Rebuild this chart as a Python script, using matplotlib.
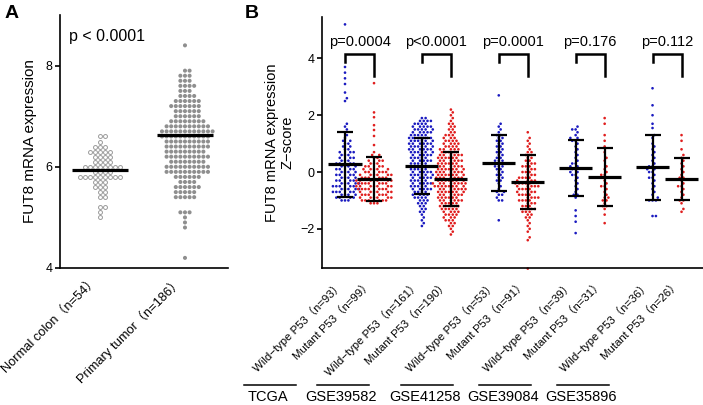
#!/usr/bin/env python
import numpy as np
import matplotlib as mpl

mpl.use("Agg")
from matplotlib import pyplot as plt
from matplotlib.lines import Line2D

plt.rcParams['font.family'] = ['Liberation Sans', 'Noto Sans CJK JP']

# ---- panel A: FUT8 expression, counts per 0.1 bin
a_labels = ['Normal colon（n=54）', 'Primary tumor（n=186）']
normal_lo = 5.0
normal_counts = [1, 1, 2, 0, 2, 2, 3, 3, 9, 4, 8, 4, 4, 5, 3, 1, 2]
tumor_lo = 4.2
tumor_counts = [1, 0, 0, 0, 0, 0, 1, 1, 1, 3, 0, 0, 5, 5, 6, 4, 6, 10, 10, 8,
                10, 9, 10, 10, 11, 12, 10, 8, 6, 6, 7, 6, 4, 3, 4, 3, 3, 2,
                0, 0, 0, 0, 1]
a_means = [5.94, 6.63]
a_pval = 'p < 0.0001'

# ---- panel B: Z-scores by P53 status, counts per 0.1 bin + stray points
b_cohorts = ['TCGA', 'GSE39582', 'GSE41258', 'GSE39084', 'GSE35896']
wt_n = [93, 161, 53, 39, 36]
mut_n = [99, 190, 91, 31, 26]
b_pvals = ['p=0.0004', 'p<0.0001', 'p=0.0001', 'p=0.176', 'p=0.112']

wt_lo = [-1.0, -1.9, -1.0, -0.9, -1.0]
wt_counts = [
    [3, 4, 4, 5, 5, 5, 5, 4, 4, 4, 4, 4, 4, 4, 3, 3, 3, 3, 2, 2, 2, 2, 1, 1, 1, 1, 1, 1],
    [1, 1, 1, 1, 1, 2, 2, 2, 3, 3, 4, 4, 4, 5, 5, 5, 5, 5, 6, 5, 5, 5, 5, 5, 5, 5, 6, 6,
     6, 6, 6, 6, 5, 5, 5, 5, 4, 4, 2],
    [2, 1, 2, 2, 1, 1, 1, 2, 2, 2, 2, 2, 3, 3, 3, 2, 2, 2, 2, 2, 2, 2, 2, 2, 1, 1, 1, 1],
    [1, 2, 1, 1, 1, 1, 1, 1, 2, 2, 2, 2, 2, 1, 1, 1, 1, 1, 1, 1, 2, 2, 1, 1, 2, 1],
    [3, 1, 1, 1, 1, 1, 1, 1, 2, 1, 2, 2, 2, 1, 1, 1, 1, 1, 1, 1, 1, 0, 1, 1],
]
wt_extra = [
    [2.5, 2.6, 2.8, 3.1, 3.3, 3.5, 3.7, 5.2],
    [],
    [-1.7, 2.7],
    [-1.35, -1.55, -1.75, -2.15],
    [1.55, 1.7, 2.0, 2.35, 2.95, -1.55, -1.55],
]
mut_lo = [-1.1, -2.2, -2.4, -1.3, -1.4]
mut_counts = [
    [3, 6, 6, 6, 6, 7, 7, 7, 7, 6, 6, 5, 5, 4, 3, 3, 2, 2, 1],
    [1, 1, 1, 2, 2, 3, 3, 4, 4, 5, 5, 5, 6, 6, 6, 7, 7, 8, 8, 7, 7, 7, 7, 7, 6, 6, 6,
     6, 6, 5, 5, 4, 4, 4, 3, 3, 2, 2, 2, 2, 1, 1, 1, 1, 1],
    [1, 1, 0, 1, 1, 1, 1, 1, 2, 2, 3, 3, 3, 3, 4, 4, 4, 4, 4, 5, 5, 4, 4, 3, 3, 3, 3,
     3, 2, 2, 2, 2, 1, 1, 1, 1, 1, 0, 1],
    [1, 2, 1, 2, 2, 1, 1, 1, 2, 1, 1, 1, 2, 1, 1, 1, 0, 1, 1, 0, 1, 0, 1, 0, 1, 0, 1],
    [1, 1, 0, 1, 2, 1, 1, 1, 1, 2, 1, 1, 2, 1, 1, 1, 1, 1, 1, 1, 1, 0, 1, 0, 0, 1, 0, 1],
]
mut_extra = [
    [0.95, 1.27, 1.48, 1.65, 1.93, 2.1, 3.13],
    [],
    [-3.4],
    [1.7, 1.9, -1.5, -1.8],
    [],
]
# mean and SD as drawn
wt_mean = [0.27, 0.22, 0.32, 0.15, 0.17]
wt_sd = [1.15, 0.98, 0.98, 0.98, 1.14]
mut_mean = [-0.25, -0.25, -0.34, -0.18, -0.24]
mut_sd = [0.77, 0.96, 0.95, 1.03, 0.74]

W, H = 703, 405


def expand(lo, counts, extra=()):
    vals = []
    for k, c in enumerate(counts):
        vals += [round(lo + 0.1 * k, 2)] * c
    return np.array(vals + list(extra), dtype=float)


def swarm(ax, x0, values, d):
    # beeswarm layout in pixel space, d = minimum centre distance
    tr = ax.transData
    pts = tr.transform(np.column_stack([np.full(len(values), x0), values]))
    ys = pts[:, 1]
    xs = np.zeros(len(values))
    placed = []
    for i in np.argsort(ys, kind='stable'):
        y = ys[i]
        near = [(px, py) for px, py in placed if abs(py - y) < d]
        cands = [0.0]
        for px, py in near:
            dx = np.sqrt(d * d - (py - y) ** 2)
            cands += [px + dx, px - dx]
        cands.sort(key=abs)
        for c in cands:
            if all((c - px) ** 2 + (y - py) ** 2 >= d * d - 1e-6 for px, py in near):
                xs[i] = c
                break
        placed.append((xs[i], y))
    pts[:, 0] += xs
    return tr.inverted().transform(pts)


def frame(ax, lw=1.2):
    for s in ['top', 'right']:
        ax.spines[s].set_visible(False)
    for s in ['left', 'bottom']:
        ax.spines[s].set_linewidth(lw)
    ax.tick_params(axis='y', length=3.5, width=lw, labelsize=9, pad=2)
    ax.tick_params(axis='x', length=0)


fig = plt.figure(figsize=(W / 100, H / 100), dpi=100)

# ---------------- panel A
axA = fig.add_axes([60 / W, 1 - 268 / H, 168 / W, 253 / H])
axA.set_xlim(-0.47, 1.506)
axA.set_ylim(4, 9.0)
frame(axA)
axA.set_yticks([4, 6, 8])
axA.set_xticks([0, 1])
axA.set_xticklabels(a_labels, rotation=45, ha='right', fontsize=9.3)
axA.tick_params(axis='x', pad=5)
axA.set_ylabel('FUT8 mRNA expression', fontsize=11, labelpad=6)

normal = expand(normal_lo, normal_counts)
tumor = expand(tumor_lo, tumor_counts)
p = swarm(axA, 0, normal, 4.9)
axA.scatter(p[:, 0], p[:, 1], s=8, facecolor='white', edgecolor='#9a9a9a',
            linewidth=0.7, zorder=2, clip_on=False)
p = swarm(axA, 1, tumor, 4.6)
axA.scatter(p[:, 0], p[:, 1], s=8.5, facecolor='#8f8f8f', edgecolor='none',
            zorder=2, clip_on=False)
for i, m in enumerate(a_means):
    axA.hlines(m, i - 0.33, i + 0.33, color='black', lw=2.3, zorder=3)
axA.text(-0.36, 8.57, a_pval, fontsize=11.5, va='center', ha='left')
fig.text(5 / W, 1 - 13 / H, 'A', fontsize=14, fontweight='bold', va='center')

# ---------------- panel B
axB = fig.add_axes([322 / W, 1 - 268 / H, (W - 322) / W, 251 / H])
axB.set_xlim(-0.793, 12.34)
axB.set_ylim(-3.38, 5.46)
frame(axB)
axB.set_yticks([-2, 0, 2, 4])
axB.set_ylabel('FUT8 mRNA expression\nZ−score', fontsize=10.5, labelpad=4,
               linespacing=1.1)

step = 2.65
xw = np.arange(len(b_cohorts)) * step
xm = xw + 1.0
ticks, tlabels = [], []
for i in range(len(b_cohorts)):
    wt = expand(wt_lo[i], wt_counts[i], wt_extra[i])
    mu = expand(mut_lo[i], mut_counts[i], mut_extra[i])
    p = swarm(axB, xw[i], wt, 3.4)
    axB.scatter(p[:, 0], p[:, 1], s=3.6, color='#1a1ac0', edgecolor='none',
                zorder=2, clip_on=False)
    p = swarm(axB, xm[i], mu, 3.4)
    axB.scatter(p[:, 0], p[:, 1], s=3.6, color='#e01e1e', edgecolor='none',
                zorder=2, clip_on=False)
    for x, m, sd in [(xw[i], wt_mean[i], wt_sd[i]), (xm[i], mut_mean[i], mut_sd[i])]:
        axB.errorbar(x, m, yerr=sd, fmt='none', ecolor='black', elinewidth=1.6,
                     capsize=5.5, capthick=1.6, zorder=3)
        axB.hlines(m, x - 0.57, x + 0.57, color='black', lw=2.3, zorder=3)
    # significance bracket
    axB.plot([xw[i], xw[i], xm[i], xm[i]], [3.87, 4.15, 4.15, 3.38],
             color='black', lw=1.8, solid_joinstyle='miter')
    axB.text((xw[i] + xm[i]) / 2, 4.33, b_pvals[i], fontsize=10.5,
             ha='center', va='bottom')
    ticks += [xw[i], xm[i]]
    tlabels += ['Wild−type P53（n=%d）' % wt_n[i], 'Mutant P53（n=%d）' % mut_n[i]]

axB.set_xticks(ticks)
axB.set_xticklabels(tlabels, rotation=45, ha='right', fontsize=8.2)
axB.tick_params(axis='x', pad=8)
fig.text(245 / W, 1 - 13 / H, 'B', fontsize=14, fontweight='bold', va='center')

# cohort names under the labels
line_x = [244, 317, 401, 479, 557]
for x0, name in zip(line_x, b_cohorts):
    fig.add_artist(Line2D([x0 / W, (x0 + 52) / W], [1 - 385 / H] * 2,
                          color='black', lw=1.1, transform=fig.transFigure))
    fig.text((x0 + 24) / W, 1 - 397 / H, name, fontsize=10.5,
             ha='center', va='center')

fig.savefig('out.png', dpi=100)
